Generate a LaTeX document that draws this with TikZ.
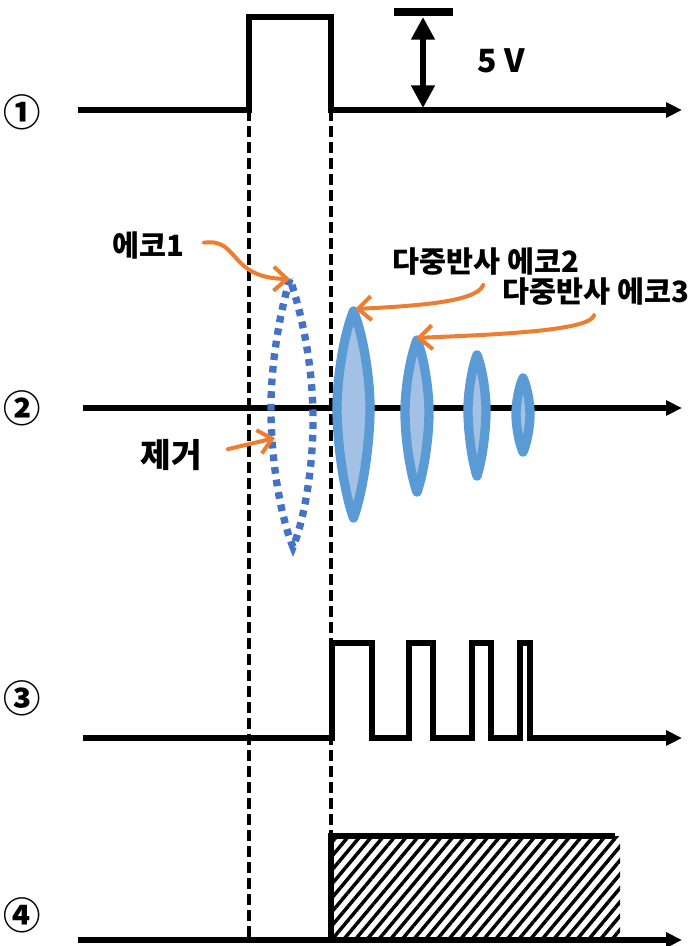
\documentclass[tikz,border=0pt]{standalone}
\usepackage{fontspec}
\setmainfont{Noto Sans CJK KR}
\usetikzlibrary{arrows.meta,patterns.meta}
\definecolor{echoblue}{RGB}{91,155,213}
\definecolor{echofill}{RGB}{163,193,229}
\definecolor{dotblue}{RGB}{68,114,196}
\definecolor{callorange}{RGB}{237,125,49}

\begin{document}
\begin{tikzpicture}[x=.75pt,y=-.75pt,>={Triangle[length=12pt,width=11pt]},
    wave/.style={line width=4.2pt},
    guide/.style={line width=2.8pt,dash pattern=on 8pt off 4pt},
    echo/.style={draw=echoblue,fill=echofill,line width=7pt,line join=round},
    gone/.style={draw=dotblue,line width=5.5pt,dash pattern=on 5pt off 4.5pt},
    callout/.style={draw=callorange,line width=3pt,line cap=round,-{Straight Barb[length=10pt,width=18pt]}},
    lbl/.style={font=\fontsize{22}{26}\selectfont\bfseries,inner sep=1pt},
    num/.style={font=\fontsize{28}{32}\selectfont\bfseries}]
    \useasboundingbox (0,0) rectangle (693,946);
    % time marks
    \draw[guide] (249,110) -- (249,940);
    \draw[guide] (331,110) -- (331,836);
    % 1: trigger pulse
    \node[num] (s1) at (22,112) {①};
    \draw[wave,->] (78,110) -| (249,17) -| (331,110) -- (682,110);
    \draw[line width=6.5pt] (394,12) -- (453,12);
    \coordinate (vtop) at (423,17);
    \coordinate (vbase) at (423,108);
    \draw[line width=5pt,{Triangle[length=17pt,width=17pt]}-{Triangle[length=17pt,width=17pt]}] (vtop) -- (vbase);
    \node[lbl,font=\fontsize{24}{28}\selectfont\bfseries] (volt) at (501,61) {5 V};
    % 2: echoes
    \node[num] (s2) at (22,408) {②};
    \draw[wave,->] (83,408) -- (682,408);
    \draw[gone] (290,279) .. controls (279,315) and (270,370) .. (271,415)
      .. controls (272,470) and (282,520) .. (293,547)
      .. controls (304,520) and (313,470) .. (313,420)
      .. controls (313,365) and (302,315) .. (290,279);
    \foreach \cx/\etop/\ebot/\ehw/\emid in {353.5/311/518/16.5/408, 417/340/492/12/412, 477/355/476/9/410, 523/378/452/7/414}
      \draw[echo] (\cx,\etop) .. controls ({\cx+0.6*\ehw},{\etop+0.25*(\emid-\etop)}) and ({\cx+\ehw},{\emid-0.3*(\emid-\etop)}) .. ({\cx+\ehw},\emid)
        .. controls ({\cx+\ehw},{\emid+0.3*(\ebot-\emid)}) and ({\cx+0.6*\ehw},{\ebot-0.25*(\ebot-\emid)}) .. (\cx,\ebot)
        .. controls ({\cx-0.6*\ehw},{\ebot-0.25*(\ebot-\emid)}) and ({\cx-\ehw},{\emid+0.3*(\ebot-\emid)}) .. ({\cx-\ehw},\emid)
        .. controls ({\cx-\ehw},{\emid-0.3*(\emid-\etop)}) and ({\cx-0.6*\ehw},{\etop+0.25*(\emid-\etop)}) .. cycle;
    \coordinate (e1top) at (290,279);
    \coordinate (rmtip) at (275,438);
    \coordinate (e2top) at (355,309);
    \coordinate (e3top) at (416,338);
    \node[lbl] (e1lbl) at (148,245) {에코1};
    \node[lbl,font=\fontsize{25}{29}\selectfont\bfseries] (rmlbl) at (171,455) {제거};
    \node[lbl] (e2lbl) at (486,262) {다중반사 에코2};
    \node[lbl] (e3lbl) at (596,292) {다중반사 에코3};
    \draw[callout,shorten <=14pt] (e1lbl.east) .. controls (240,238) and (228,278) .. (e1top);
    \draw[callout,shorten <=19pt] (rmlbl.east) -- (rmtip);
    \draw[callout,shorten <=6pt] (e2lbl.south) .. controls (477,302) and (416,306) .. (e2top);
    \draw[callout,shorten <=6pt] (e3lbl.south) .. controls (590,332) and (480,335) .. (e3top);
    % 3: comparator output
    \node[num] (s3) at (22,698) {③};
    \draw[wave,->] (83,738) -| (332,643) -| (372,738) -| (409,643) -| (433,738)
      -| (472,643) -| (491,738) -| (520,643) -| (530,738) -- (682,738);
    % 4: gate window
    \node[num] (s4) at (22,915) {④};
    \fill[pattern={Lines[angle=50,distance=6.7pt,line width=2.6pt]}] (331,836) rectangle (620,936);
    \draw[wave] (615,836) -| (331,940);
    \draw[wave,->] (78,940) -- (682,940);
  \end{tikzpicture}
\end{document}
